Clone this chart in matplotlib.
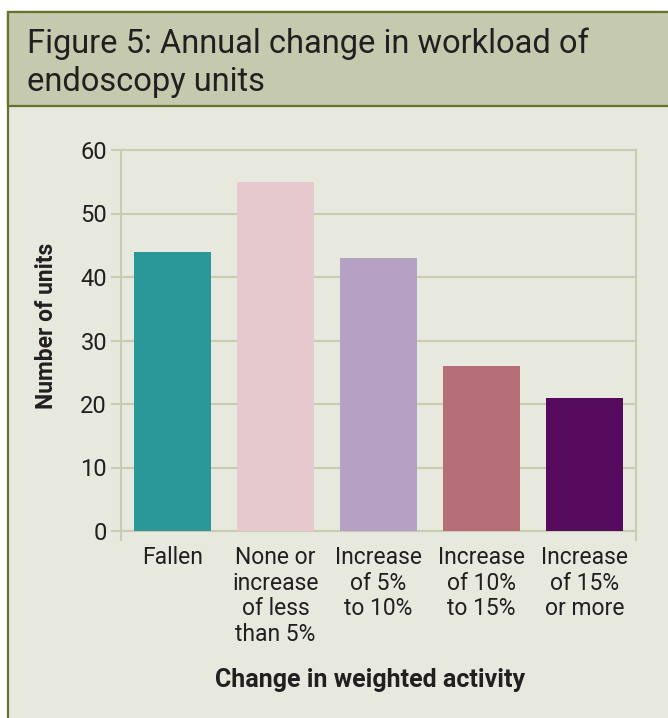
import matplotlib
matplotlib.use("Agg")
import matplotlib.pyplot as plt
from matplotlib.patches import Rectangle

categories = ["Fallen", "None or\nincrease\nof less\nthan 5%", "Increase\nof 5%\nto 10%",
              "Increase\nof 10%\nto 15%", "Increase\nof 15%\nor more"]
units = [44, 55, 43, 26, 21]
bar_colors = ["#2a9799", "#e6c9cf", "#b4a1c4", "#b56d77", "#550a5d"]
yticks = [0, 10, 20, 30, 40, 50, 60]

title = "Figure 5: Annual change in workload of\nendoscopy units"
ylabel = "Number of units"
xlabel = "Change in weighted activity"

plt.rcParams["font.family"] = ["Roboto", "DejaVu Sans"]

W, H = 668, 718
fig = plt.figure(figsize=(W / 100, H / 100), dpi=100)
fig.patch.set_facecolor("white")

def fx(px):
    return px / W

def fy(py):
    return 1 - py / H

border = "#68722f"
body_bg = "#e8e9de"
head_bg = "#c5c9ae"
grid_c = "#c9ccb1"
text_c = "#231f20"

# panel body and header band
fig.patches.append(Rectangle((fx(8), -0.1), 1.0, fy(12) + 0.1, transform=fig.transFigure,
                             facecolor=body_bg, edgecolor=border, linewidth=1.6, zorder=-2))
fig.patches.append(Rectangle((fx(8), fy(106)), 1.0, fy(12) - fy(106), transform=fig.transFigure,
                             facecolor=head_bg, edgecolor=border, linewidth=1.6, zorder=-1))

fig.text(fx(27), fy(28), title, ha="left", va="top", fontsize=23.5,
         color=text_c, linespacing=1.24)

ax = fig.add_axes([fx(121), fy(531), fx(636) - fx(121), fy(150) - fy(531)])
ax.set_facecolor("none")
ax.set_zorder(2)

x = list(range(len(categories)))
ax.bar(x, units, width=0.75, color=bar_colors, zorder=3)

ax.set_xlim(-0.5, len(categories) - 0.5)
ax.set_ylim(0, 60)
ax.set_yticks(yticks)
ax.yaxis.grid(True, color=grid_c, linewidth=1.5, zorder=0)
ax.set_axisbelow(True)

for s in ax.spines.values():
    s.set_color(grid_c)
    s.set_linewidth(1.5)

ax.tick_params(axis="y", length=7, width=1.5, color=grid_c, labelsize=17,
               labelcolor=text_c, pad=3)
ax.set_xticks(x)
ax.set_xticklabels(categories, fontsize=16.5, color=text_c, linespacing=1.14, va="top")
ax.tick_params(axis="x", length=0, pad=11)
ax.set_xticks([-0.5, len(categories) - 0.5], minor=True)
ax.tick_params(axis="x", which="minor", length=7, width=1.5, color=grid_c)

fig.text(fx(47), fy(326), ylabel, rotation=90, ha="center", va="center",
         fontsize=16.5, fontweight="bold", color=text_c)
fig.text(fx(370), fy(680), xlabel, ha="center", va="center", fontsize=18,
         fontweight="bold", color=text_c)

fig.savefig("out.png", dpi=100, facecolor=fig.get_facecolor())
